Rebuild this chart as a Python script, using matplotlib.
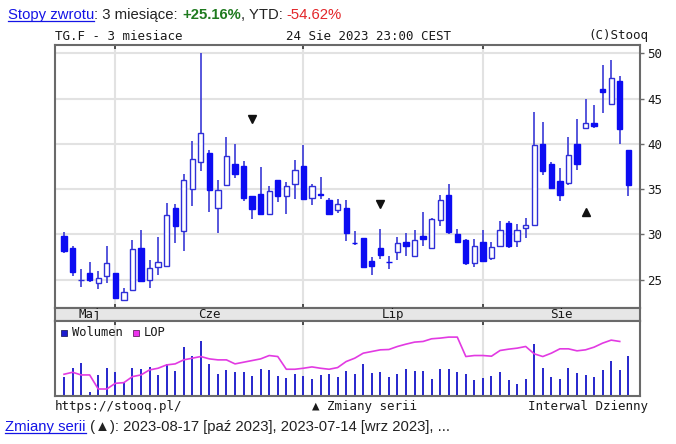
import numpy as np
import pandas as pd
import matplotlib
matplotlib.use("Agg")
import matplotlib.pyplot as plt
from matplotlib.lines import Line2D
from matplotlib.patches import Rectangle
from matplotlib.font_manager import FontProperties

# ---------------- data ----------------
dates = pd.bdate_range("2023-05-24", "2023-08-24")
opens = [29.87, 28.51, 25.00, 25.74, 24.63, 25.44, 25.74, 22.75, 23.86, 28.51,
         25.00, 26.37, 26.55, 32.94, 30.32, 34.97, 38.00, 39.03, 32.90, 35.41,
         37.81, 37.56, 34.23, 34.49, 32.27, 35.97, 34.23, 35.52, 37.56, 34.01,
         34.49, 33.83, 32.64, 32.94, 29.10, 29.62, 27.10, 28.51, 26.95, 28.03,
         29.14, 27.66, 29.87, 28.51, 31.54, 34.30, 29.99, 29.39, 26.81, 29.14,
         27.40, 28.77, 31.24, 29.25, 30.72, 31.09, 40.03, 37.81, 35.86, 35.67,
         40.03, 41.80, 42.36, 46.01, 44.46, 46.97, 39.29]
highs = [30.24, 28.69, 26.18, 26.99, 26.00, 28.69, 25.74, 24.04, 29.39, 30.50,
         27.22, 29.69, 33.46, 33.31, 36.71, 40.29, 50.00, 39.29, 35.97, 40.77,
         39.96, 38.07, 34.23, 37.44, 35.34, 35.97, 35.78, 38.18, 39.92, 35.60,
         36.34, 34.01, 33.86, 33.75, 30.35, 29.62, 27.47, 30.61, 27.66, 29.69,
         30.17, 30.50, 32.46, 31.80, 34.30, 35.52, 30.54, 29.50, 29.50, 30.50,
         29.14, 31.43, 31.43, 31.17, 31.80, 43.54, 42.43, 38.00, 37.33, 40.77,
         42.73, 44.94, 44.28, 48.71, 49.26, 47.49, 39.29]
lows = [27.95, 25.44, 24.15, 24.70, 23.97, 24.59, 22.97, 22.75, 23.86, 24.89,
        24.08, 25.52, 26.55, 29.06, 28.14, 33.12, 37.00, 32.46, 30.17, 35.41,
        36.26, 33.68, 31.65, 32.20, 32.16, 33.57, 32.27, 33.94, 33.86, 33.27,
        33.94, 32.27, 32.39, 29.32, 28.88, 26.29, 25.55, 27.29, 26.18, 27.22,
        27.66, 27.55, 28.76, 28.51, 30.98, 30.06, 29.10, 26.66, 26.37, 26.92,
        27.22, 28.70, 28.51, 28.58, 29.62, 30.98, 36.52, 35.04, 33.68, 35.41,
        37.08, 41.80, 41.80, 43.46, 44.39, 40.03, 34.20]
closes = [28.21, 25.81, 25.00, 24.96, 25.22, 26.85, 22.97, 23.67, 28.40, 24.89,
          26.29, 27.00, 32.09, 30.91, 36.04, 38.29, 41.21, 34.93, 34.86, 38.66,
          36.63, 34.05, 32.83, 32.27, 34.75, 34.23, 35.34, 37.08, 33.86, 35.34,
          34.30, 32.27, 33.38, 30.17, 29.06, 26.44, 26.48, 27.73, 26.92, 29.06,
          28.76, 29.39, 29.50, 31.72, 33.77, 30.24, 29.21, 26.81, 28.76, 27.03,
          28.58, 30.43, 28.70, 30.43, 31.09, 39.84, 37.00, 35.16, 34.31, 38.81,
          37.74, 42.32, 41.99, 45.75, 47.30, 41.62, 35.41]
# volume and open interest (LOP), in panel units
volume = [57, 82, 97, 10, 62, 82, 70, 42, 82, 80, 87, 62, 95, 74, 145, 119, 162,
          94, 64, 77, 70, 70, 60, 80, 77, 60, 54, 64, 60, 50, 62, 64, 57, 74,
          64, 94, 67, 70, 57, 64, 80, 74, 74, 50, 80, 80, 70, 64, 47, 54, 60,
          70, 47, 34, 50, 154, 82, 57, 50, 82, 67, 62, 57, 77, 104, 77, 119]
lop = [64, 70, 62, 62, 20, 20, 37, 39, 57, 62, 77, 82, 92, 95, 107, 112, 117,
       110, 107, 107, 95, 100, 105, 110, 120, 117, 79, 79, 82, 86, 82, 79, 84, 102,
       112, 127, 132, 137, 138, 147, 154, 160, 162, 170, 172, 175, 175, 117, 120, 120, 118,
       135, 139, 142, 147, 125, 117, 127, 140, 140, 134, 137, 145, 157, 166, 162, np.nan]
# series change markers
change_dates_down = ["2023-06-23", "2023-07-14"]
change_vals_down = [42.8, 33.4]
change_dates_up = ["2023-08-17"]
change_vals_up = [32.5]
month_names = ["Maj", "Cze", "Lip", "Sie"]
y_ticks = [25, 30, 35, 40, 45, 50]

# ---------------- layout ----------------
W, H = 676, 444
fig = plt.figure(figsize=(W / 100, H / 100), dpi=100)
fig.patch.set_facecolor("white")

def fx(px):
    return px / W

def fy(py):
    return 1 - py / H

L, R = 54.7, 640.0
T_main, B_main = 44.7, 307.5
B_strip = 320.7
B_vol = 395.7

ax = fig.add_axes([fx(L), fy(B_main), fx(R) - fx(L), fy(T_main) - fy(B_main)])
axm = fig.add_axes([fx(L), fy(B_strip), fx(R) - fx(L), fy(B_main) - fy(B_strip)])
axv = fig.add_axes([fx(L), fy(B_vol), fx(R) - fx(L), fy(B_strip) - fy(B_vol)])

n = len(dates)
idx = np.arange(n)
xlim = (-1.09, 67.37)
date_pos = {d.strftime("%Y-%m-%d"): i for i, d in enumerate(dates)}
month_start = [i for i in range(1, n) if dates[i].month != dates[i - 1].month]

SPINE = "#6a6a6a"
GRID = "#e2e2e2"
MONO = "DejaVu Sans Mono"
TXT = "#1a1a1a"

# ---------------- main candles ----------------
o = np.array(opens); h = np.array(highs); l = np.array(lows); c = np.array(closes)
up = c >= o
ax.vlines(idx, l, h, color="#3a3ad6", lw=1.2, zorder=2)
bw = 0.62
ax.bar(idx[up], (c - o)[up], bottom=o[up], width=bw, facecolor="white",
       edgecolor="#2f2fd8", lw=1.0, zorder=3)
ax.bar(idx[~up], (o - c)[~up], bottom=c[~up], width=bw, facecolor="#0c0cf2",
       edgecolor="#0c0cf2", lw=1.0, zorder=3)

ax.plot([date_pos[d] for d in change_dates_down], change_vals_down, "v",
        color="#111111", ms=5.6, zorder=4)
ax.plot([date_pos[d] for d in change_dates_up], change_vals_up, "^",
        color="#111111", ms=5.6, zorder=4)

ax.set_xlim(*xlim)
ax.set_ylim(21.92, 50.96)
ax.set_yticks(y_ticks)
ax.yaxis.tick_right()
ax.tick_params(axis="y", which="both", direction="out", length=3, width=1,
               color=SPINE, labelsize=9, labelcolor=TXT, pad=2)
for lab in ax.get_yticklabels():
    lab.set_fontfamily(MONO)
ax.set_xticks(month_start)
ax.tick_params(axis="x", direction="in", length=3, width=1.2, color="#333333",
               top=True, bottom=True, labelbottom=False)
ax.grid(axis="y", color=GRID, lw=1.5, zorder=0)
for m in month_start:
    ax.axvline(m, color=GRID, lw=1.5, zorder=0)
ax.set_axisbelow(True)
for s in ax.spines.values():
    s.set_color(SPINE); s.set_linewidth(1.5)

# ---------------- month strip ----------------
axm.set_facecolor("#e6e6e6")
axm.set_xlim(*xlim)
axm.set_ylim(0, 1)
axm.set_xticks([]); axm.set_yticks([])
for s in axm.spines.values():
    s.set_color(SPINE); s.set_linewidth(1.5)
bounds = [0] + month_start + [xlim[1]]
for k, name in enumerate(month_names):
    xm = (bounds[k] + bounds[k + 1]) / 2
    axm.text(xm, 0.2, name, ha="center", va="baseline", fontsize=9,
             family=MONO, color=TXT)

# ---------------- volume panel ----------------
axv.vlines(idx, 0, volume, color="#2626cc", lw=1.4, zorder=2)
axv.plot(idx, lop, color="#e23ae2", lw=1.2, zorder=3)
axv.set_xlim(*xlim)
axv.set_ylim(0, 224)
axv.set_yticks([])
axv.set_xticks(month_start)
axv.tick_params(axis="x", direction="in", length=3, width=1.2, color="#333333",
                top=True, bottom=False, labelbottom=False)
for m in month_start:
    axv.axvline(m, color=GRID, lw=1.5, zorder=0)
for s in axv.spines.values():
    s.set_color(SPINE); s.set_linewidth(1.5)

# legend in volume panel
fig.patches.append(Rectangle((fx(60.7), fy(335.5)), fx(6), 6 / H, transform=fig.transFigure,
                             facecolor="#1c1cd0", edgecolor="#222266", lw=0.6))
fig.text(fx(72.3), fy(336), "Wolumen", family=MONO, fontsize=8.7, color=TXT, va="baseline")
fig.patches.append(Rectangle((fx(132.5), fy(335.5)), fx(6), 6 / H, transform=fig.transFigure,
                             facecolor="#ee33ee", edgecolor="#662266", lw=0.6))
fig.text(fx(143.5), fy(336), "LOP", family=MONO, fontsize=8.7, color=TXT, va="baseline")

# ---------------- chart texts ----------------
fig.text(fx(54.7), fy(39.5), "TG.F - 3 miesiace", family=MONO, fontsize=9,
         color=TXT, va="baseline", ha="left")
fig.text(fx(286.5), fy(39.5), "24 Sie 2023 23:00 CEST", family=MONO, fontsize=9,
         color=TXT, va="baseline", ha="left")
fig.text(fx(648.5), fy(39.5), "(C)Stooq", family=MONO, fontsize=9,
         color=TXT, va="baseline", ha="right")
fig.text(fx(54.7), fy(410), "https://stooq.pl/", family=MONO, fontsize=9,
         color=TXT, va="baseline", ha="left")
fig.text(fx(365), fy(410), "▲ Zmiany serii", family=[MONO, "DejaVu Sans"], fontsize=9,
         color=TXT, va="baseline", ha="center")
fig.text(fx(648.5), fy(410), "Interwal Dzienny", family=MONO, fontsize=9,
         color=TXT, va="baseline", ha="right")

# ---------------- html-like header / footer lines ----------------
renderer = fig.canvas.get_renderer()
SANS = ["Liberation Sans", "DejaVu Sans"]

def measure(s, prop):
    w1, _, _ = renderer.get_text_width_height_descent("x" + s + "x", prop, ismath=False)
    w0, _, _ = renderer.get_text_width_height_descent("xx", prop, ismath=False)
    return w1 - w0

def rich_line(x_px, base_px, parts, size):
    x = x_px
    for s, color, weight, underline in parts:
        prop = FontProperties(family=SANS, size=size, weight=weight)
        fig.text(fx(x), fy(base_px), s, fontproperties=prop, color=color,
                 va="baseline", ha="left")
        w = measure(s, prop)
        if underline:
            fig.lines.append(Line2D([fx(x), fx(x + w)], [fy(base_px + 2), fy(base_px + 2)],
                                    transform=fig.transFigure, color=color, lw=0.9))
        x += w

rich_line(8, 18.7, [
    ("Stopy zwrotu", "#1414e6", "normal", True),
    (": 3 miesiące: ", "#222222", "normal", False),
    ("+25.16%", "#1f7a1f", "bold", False),
    (", YTD: ", "#222222", "normal", False),
    ("-54.62%", "#e3262a", "normal", False),
], 10.7)

rich_line(5.2, 431, [
    ("Zmiany serii", "#1414e6", "normal", True),
    (" (▲): 2023-08-17 [paź 2023], 2023-07-14 [wrz 2023], ...", "#222222", "normal", False),
], 10.7)

fig.savefig("out.png", dpi=100, facecolor="white")
